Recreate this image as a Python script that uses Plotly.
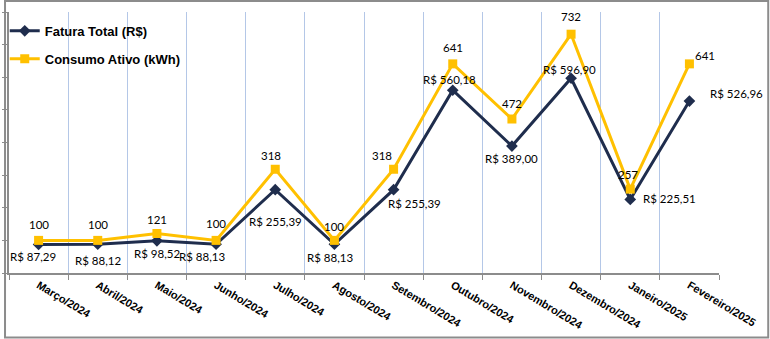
import plotly.graph_objects as go

# Monthly data
meses = ["Março/2024", "Abril/2024", "Maio/2024", "Junho/2024", "Julho/2024",
         "Agosto/2024", "Setembro/2024", "Outubro/2024", "Novembro/2024",
         "Dezembro/2024", "Janeiro/2025", "Fevereiro/2025"]
fatura_total = [87.29, 88.12, 98.52, 88.13, 255.39, 88.13, 255.39,
                560.18, 389.00, 596.90, 225.51, 526.96]
consumo_ativo = [100, 100, 121, 100, 318, 100, 318, 641, 472, 732, 257, 641]

NAVY = "#1f2d4d"
GOLD = "#ffc000"
W, H = 770, 339
L, R, T, B = 5, 51, 12, 66  # plot-area margins in px

# Pixel offsets (dx right, dy down) of each data label from its point
fatura_offsets = [(-6, 12), (0, 16), (0, 13), (-14, 12), (0, 32), (-4, 13),
                  (21, 14), (-3, -11), (0, 12), (-2, -9), (39, -1), (47, -8)]
consumo_offsets = [(0, -16), (0, -16), (0, -14), (0, -17), (-4, -14), (0, -14),
                   (-12, -14), (0, -16), (0, -16), (0, -18), (-2, -15), (16, -8)]


def brl(v):
    return "R$ " + f"{v:.2f}".replace(".", ",")


fig = go.Figure()
fig.add_trace(go.Scatter(
    x=meses, y=fatura_total, name="Fatura Total (R$)", mode="lines+markers",
    line=dict(color=NAVY, width=3),
    marker=dict(symbol="diamond", size=9, color=NAVY),
    legendgroup="f",
))
fig.add_trace(go.Scatter(
    x=meses, y=consumo_ativo, name="Consumo Ativo (kWh)", mode="lines+markers",
    line=dict(color=GOLD, width=3),
    marker=dict(symbol="square", size=9, color=GOLD),
    legendgroup="c",
))

label_font = dict(family="Lato, Liberation Sans, sans-serif", size=11.5, color="#000000")
annotations = []
for m, v, (dx, dy) in zip(meses, fatura_total, fatura_offsets):
    annotations.append(dict(x=m, y=v, text=brl(v), showarrow=False,
                            xshift=dx, yshift=-dy, font=label_font,
                            xanchor="center", yanchor="middle"))
for m, v, (dx, dy) in zip(meses, consumo_ativo, consumo_offsets):
    annotations.append(dict(x=m, y=v, text=str(v), showarrow=False,
                            xshift=dx, yshift=-dy, font=label_font,
                            xanchor="center", yanchor="middle"))

pw = W - L - R
ph = H - T - B


def px_x(p):
    return (p - L) / pw


def px_y(p):
    return (H - B - p) / ph


fig.update_layout(
    width=W, height=H,
    margin=dict(l=L, r=R, t=T, b=B),
    paper_bgcolor="white", plot_bgcolor="white",
    showlegend=True,
    legend=dict(x=-0.006, y=0.985, xanchor="left", yanchor="top",
                bgcolor="rgba(0,0,0,0)", tracegroupgap=8,
                font=dict(family="Arial, Liberation Sans, sans-serif", size=13,
                          color="#000000", weight="bold")),
    annotations=annotations,
    shapes=[dict(type="rect", xref="paper", yref="paper",
                 x0=px_x(1), x1=px_x(768.5), y0=px_y(337.5), y1=px_y(1),
                 line=dict(color="#8c8c8c", width=2), fillcolor="rgba(0,0,0,0)",
                 layer="above")],
    xaxis=dict(type="category", range=[-0.5, len(meses) - 0.5],
               showline=True, linecolor="#8c8c8c", linewidth=1.5,
               ticks="outside", ticklen=5, tickcolor="#8c8c8c", tickson="boundaries",
               showgrid=True, gridcolor="#b4c7e7", gridwidth=1,
               tickangle=31,
               tickfont=dict(family="Arial, Liberation Sans, sans-serif", size=11,
                             color="#000000", weight="bold")),
    yaxis=dict(range=[0, 800], dtick=100, showline=True, linecolor="#8c8c8c",
               linewidth=1.5, ticks="outside", ticklen=5, tickcolor="#8c8c8c",
               showticklabels=False, showgrid=False, zeroline=False),
)

fig.write_html("out.html")
